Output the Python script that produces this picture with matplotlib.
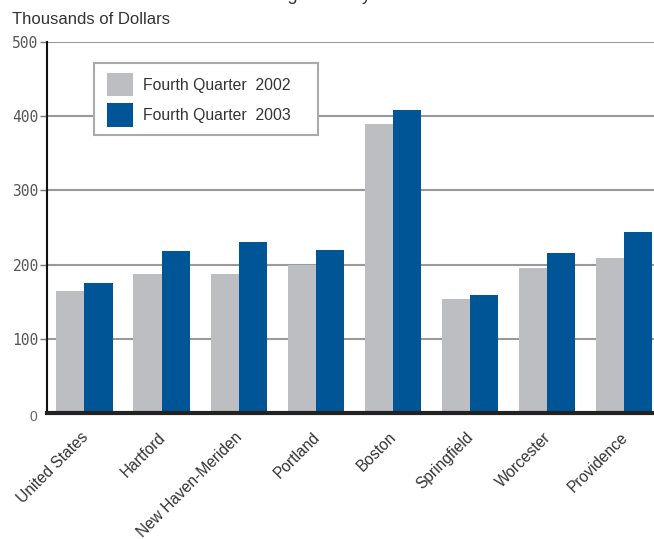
import matplotlib.pyplot as plt
import matplotlib.transforms as mtransforms
from matplotlib.patches import Rectangle
import numpy as np

cities = ["United States", "Hartford", "New Haven-Meriden", "Portland",
          "Boston", "Springfield", "Worcester", "Providence"]
q4_2002 = [164, 187, 188, 200, 389, 153, 196, 209]
q4_2003 = [175, 219, 231, 220, 409, 159, 215, 244]
yticks = [100, 200, 300, 400, 500]

gray = "#bdbec1"
blue = "#005596"

plt.rcParams["font.family"] = ["Liberation Sans", "DejaVu Sans"]

fig = plt.figure(figsize=(6.54, 5.39), dpi=100)
ax = fig.add_axes([47 / 654, (539 - 413) / 539, 607 / 654, 371 / 539])

x = np.arange(len(cities))
w = 0.365
ax.bar(x - w / 2, q4_2002, w, color=gray, label="Fourth Quarter  2002", zorder=2)
ax.bar(x + w / 2, q4_2003, w, color=blue, label="Fourth Quarter  2003", zorder=2)

ax.set_xlim(-0.486, 7.386)
ax.set_ylim(0, 500)
ax.set_yticks(yticks)
ax.set_yticklabels([str(v) for v in yticks], family="DejaVu Sans Mono",
                   fontsize=10.5, color="#555555")
ax.yaxis.grid(True, color="#999999", linewidth=1.5, zorder=0)
ax.set_axisbelow(True)
ax.tick_params(axis="y", length=5, width=1, color="#777777", pad=1)

ax.set_xticks(x)
ax.set_xticklabels(cities, rotation=45, ha="right", rotation_mode="anchor",
                   fontsize=11.2, color="#333333")
ax.tick_params(axis="x", length=0, pad=12)
offset = mtransforms.ScaledTranslation(-4 / 100, 0, fig.dpi_scale_trans)
for lab in ax.get_xticklabels():
    lab.set_transform(lab.get_transform() + offset)

for s in ["top", "right"]:
    ax.spines[s].set_visible(False)
ax.spines["left"].set_color("#111111")
ax.spines["left"].set_linewidth(1.5)
ax.spines["bottom"].set_color("#222222")
ax.spines["bottom"].set_linewidth(3)
ax.spines["bottom"].set_zorder(3)

ax.annotate("0", xy=(0, 0), xycoords="axes fraction", xytext=(-7, -3),
            textcoords="offset points", ha="right", va="center",
            fontsize=10, color="#666666")

# legend box
ax.add_patch(Rectangle((94 / 654, 1 - 135 / 539), 224 / 654, 72 / 539,
                       transform=fig.transFigure, facecolor="white",
                       edgecolor="#aaaaaa", linewidth=1.5, zorder=4))
leg = ax.legend(loc="upper left", bbox_to_anchor=((107 - 47) / 607, (413 - 73) / 371),
                borderaxespad=0, borderpad=0, frameon=False, fontsize=11.3,
                handlelength=1.63, handleheight=1.9, handletextpad=0.69,
                labelspacing=0.45)
leg.set_zorder(5)
for t in leg.get_texts():
    t.set_color("#333333")

fig.text(12 / 654, 1 - 24 / 539, "Thousands of Dollars", fontsize=12, color="#333333")
fig.text(0.431, 1.0, "Median Price of Single-Family Homes", fontsize=13, color="#333333",
         ha="center", va="baseline")

fig.savefig("out.png", dpi=100)
